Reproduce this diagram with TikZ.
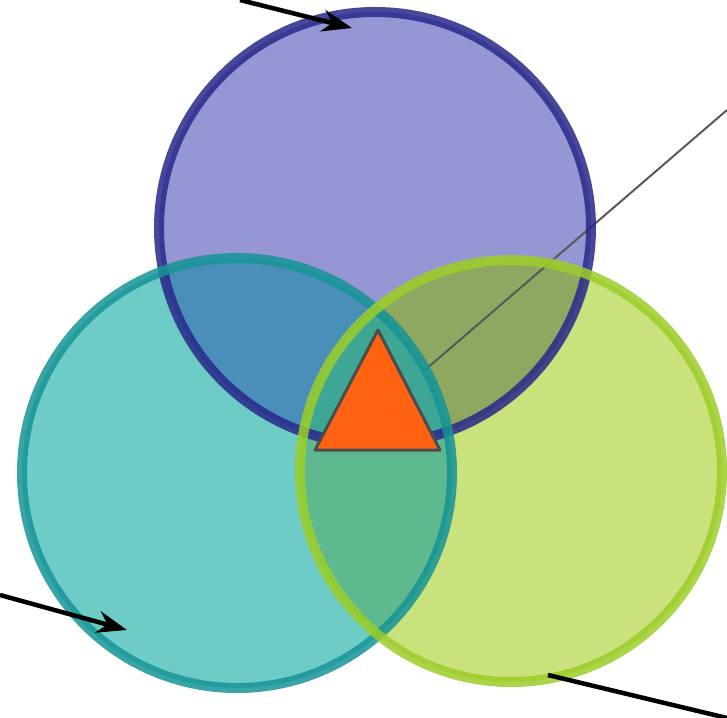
\documentclass[tikz,border=0pt]{standalone}
\usepackage{tikz}
\usetikzlibrary{arrows.meta}
\definecolor{topfill}{RGB}{150,150,212}
\definecolor{leftfill}{RGB}{110,204,198}
\definecolor{rightfill}{RGB}{202,226,124}
\definecolor{topleftfill}{RGB}{74,142,186}
\definecolor{toprightfill}{RGB}{142,168,98}
\definecolor{leftrightfill}{RGB}{94,186,142}
\definecolor{centrefill}{RGB}{62,166,148}
\definecolor{topring}{RGB}{40,40,138}
\definecolor{leftring}{RGB}{22,148,150}
\definecolor{rightring}{RGB}{156,206,40}
\definecolor{wedge}{RGB}{255,98,16}

\begin{document}
\begin{tikzpicture}[
  x=0.01cm, y=-0.01cm,
  ring/.style={line width=0.1cm, draw opacity=0.85},
  pointer/.style={-{Stealth[length=0.3cm, width=0.22cm]}, line width=0.045cm},
  leader/.style={line width=0.045cm},
  thinleader/.style={line width=0.02cm, draw=gray!70!black}
]
\useasboundingbox (0,0) rectangle (727,718);

\coordinate (top) at (375,228);
\coordinate (left) at (237,473);
\coordinate (right) at (511,471);

% circles
\fill[topfill] (top) circle[radius=216];
\fill[leftfill] (left) circle[radius=215];
\fill[rightfill] (right) circle[radius=211];

% overlaps
\begin{scope}
  \clip (top) circle[radius=216];
  \fill[topleftfill] (left) circle[radius=215];
  \fill[toprightfill] (right) circle[radius=211];
\end{scope}
\begin{scope}
  \clip (left) circle[radius=215];
  \fill[leftrightfill] (right) circle[radius=211];
  \clip (right) circle[radius=211];
  \fill[centrefill] (top) circle[radius=216];
\end{scope}

% grey leader, partly under the rings
\coordinate (greyTail) at (727,110);
\coordinate (greyEnd) at (425,370);
\draw[thinleader] (greyTail) -- (greyEnd);

\draw[ring, topring] (top) circle[radius=216];
\draw[ring, leftring] (left) circle[radius=215];
\draw[ring, rightring] (right) circle[radius=211];

% centre triangle
\coordinate (apex) at (378,330);
\coordinate (baseL) at (315,450);
\coordinate (baseR) at (440,450);
\draw[line width=0.03cm, draw=black!70, fill=wedge, line join=round] (apex) -- (baseL) -- (baseR) -- cycle;

% pointers
\coordinate (topTail) at (240,0);
\coordinate (topTip) at (352,28);
\coordinate (leftTail) at (0,595);
\coordinate (leftTip) at (127,630);
\coordinate (rightTail) at (727,718);
\coordinate (rightEnd) at (548,675);

\draw[pointer] (topTail) -- (topTip);
\draw[pointer] (leftTail) -- (leftTip);
\draw[leader] (rightTail) -- (rightEnd);

\end{tikzpicture}
\end{document}
